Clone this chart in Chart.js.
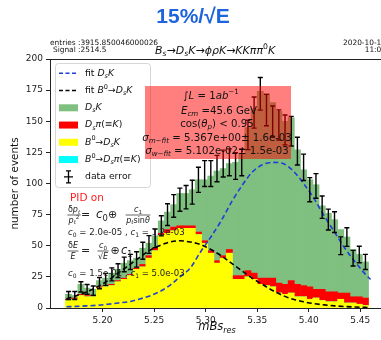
<!DOCTYPE html>
<html>
<head>
<meta charset="utf-8">
<script src="https://cdn.jsdelivr.net/npm/chart.js"></script>
<style>
html,body{margin:0;padding:0;overflow:hidden;background:#fff;}
canvas{display:block;}
</style>
</head>
<body>
<canvas id="chart" width="390" height="340"></canvas>
<script>
// histogram bin centres (mBs_res)
const binCenters = [5.167,5.173,5.179,5.185,5.191,5.197,5.203,5.209,5.215,5.221,5.227,5.233,5.239,5.245,5.251,5.257,5.263,5.269,5.275,5.281,5.287,5.293,5.299,5.305,5.311,5.317,5.323,5.329,5.335,5.341,5.347,5.353,5.359,5.365,5.371,5.377,5.383,5.389,5.395,5.401,5.407,5.413,5.419,5.425,5.431,5.437,5.443,5.449,5.455];

// stacked MC components (bottom to top)
const histB0DsK = [6,7,10,9,9,16,17,18,21,23,26,31,33,40,46,58,60,62,64,64,64,59,52,44,36,40,44,23,23,25,23,19,18,17,12,11,12,9,9,7,8,6,5,5,7,4,4,3,2];
const histB0DsPi = [0,0,0,0,0,0,0,0,0,0,0,0,0,0,0,0,0,0,0,0,0,0,0,0,0,0,0,0,0,0,0,0,0,0,0,0,0,0,0,0,0,0,0,0,0,0,0,0,0];
const histDsPi = [1,1,1,1,1,1,1,1,1,1,1,1,2,2,2,2,3,3,2,2,2,2,2,2,2,2,3,3,3,5,5,5,6,7,8,8,10,10,9,10,7,9,8,8,5,8,5,6,6];
const histDsK = [4,2,8,6,5,5,6,9,9,12,11,8,13,10,10,10,14,18,26,26,29,42,49,60,72,70,69,91,98,115,132,150,148,141,138,131,131,108,93,86,84,67,63,58,51,45,38,34,29];

// data points with errors
const dataCounts = [10,10,17,15,14,20,23,27,30,35,37,39,46,51,56,66,75,82,87,89,93,103,108,108,112,116,117,114,117,139,157,172,159,150,147,143,142,126,113,95,98,81,71,69,50,57,40,43,37];
const dataErrors = [3.2,3.2,4.1,3.9,3.7,4.5,4.8,5.2,5.5,5.9,6.1,6.2,6.8,7.1,7.5,8.1,8.7,9.1,9.3,9.4,9.6,10.1,10.4,10.4,10.6,10.8,10.8,10.7,10.8,11.8,12.5,13.1,12.6,12.2,12.1,12.0,11.9,11.2,10.6,9.7,9.9,9.0,8.4,8.3,7.1,7.5,6.3,6.6,6.1];

// fit curves
const fitX = [5.165,5.175,5.185,5.195,5.205,5.215,5.225,5.235,5.245,5.255,5.265,5.275,5.285,5.295,5.305,5.315,5.325,5.335,5.345,5.355,5.365,5.375,5.385,5.395,5.405,5.415,5.425,5.435,5.445,5.455,5.46];
const fitDsK = [1,1.3,1.7,2.2,3,4,5,7,9.5,13,18,25,32,45,57,70,85,98,109,115,117,116,110,100,88,74,61,48,37,27,23];
const fitB0DsK = [7.5,10,13,17,22,28,34,40,46,50,53,54,53,51,47,42,36,30,24,19,14,10,7,5,3.5,2.5,1.7,1.2,0.8,0.5,0.4];

const xTicks = [5.20,5.25,5.30,5.35,5.40,5.45];
const yTicks = [0,25,50,75,100,125,150,175,200];

const FAM = "'DejaVu Sans', sans-serif";

function fontStr(st, size){
  const it = st.includes('i') ? 'italic ' : '';
  const s = (st.includes('b') || st.includes('p')) ? size*0.7 : size;
  return it + s.toFixed(2) + 'px ' + FAM;
}
function richWidth(ctx, segs, size){
  let w = 0;
  for(const [t,st] of segs){ ctx.font = fontStr(st,size); w += ctx.measureText(t).width; }
  return w;
}
function rich(ctx, x, y, segs, size, color, align){
  ctx.save();
  ctx.fillStyle = color || '#111';
  ctx.textBaseline = 'middle';
  ctx.textAlign = 'left';
  const w = richWidth(ctx, segs, size);
  if(align === 'center') x -= w/2;
  else if(align === 'right') x -= w;
  for(const [t,st] of segs){
    ctx.font = fontStr(st,size);
    let dy = 0;
    if(st.includes('b')) dy = size*0.3;
    if(st.includes('p')) dy = -size*0.38;
    ctx.fillText(t, x, y+dy);
    x += ctx.measureText(t).width;
  }
  ctx.restore();
  return w;
}
function frac(ctx, cx, cy, num, den, size, color){
  const w = Math.max(richWidth(ctx,num,size), richWidth(ctx,den,size)) + 1;
  rich(ctx, cx, cy - size*0.62, num, size, color, 'center');
  rich(ctx, cx, cy + size*0.7, den, size, color, 'center');
  ctx.save();
  ctx.strokeStyle = color; ctx.lineWidth = 0.7;
  ctx.beginPath(); ctx.moveTo(cx-w/2, cy); ctx.lineTo(cx+w/2, cy); ctx.stroke();
  ctx.restore();
}

const legendItems = [
  {kind:'line', color:'#1f3fd8', text:[['fit ','n'],['D','i'],['s','bi'],['K','i']]},
  {kind:'line', color:'#000', text:[['fit ','n'],['B','i'],['0','p'],['→','n'],['D','i'],['s','bi'],['K','i']]},
  {kind:'patch', color:'#7fbf7f', text:[['D','i'],['s','bi'],['K','i']]},
  {kind:'patch', color:'#ff0000', text:[['D','i'],['s','bi'],['π','i'],['(≡','n'],['K','i'],[')','n']]},
  {kind:'patch', color:'#ffff00', text:[['B','i'],['0','p'],['→','n'],['D','i'],['s','bi'],['K','i']]},
  {kind:'patch', color:'#00ffff', text:[['B','i'],['0','p'],['→','n'],['D','i'],['s','bi'],['π','i'],['(≡','n'],['K','i'],[')','n']]},
  {kind:'err', color:'#000', text:[['data error','n']]}
];

function drawLegend(ctx){
  ctx.save();
  ctx.fillStyle = 'rgba(255,255,255,0.85)';
  ctx.strokeStyle = '#cccccc'; ctx.lineWidth = 0.8;
  ctx.beginPath();
  ctx.roundRect(55.5, 63.5, 95, 124, 3);
  ctx.fill(); ctx.stroke();
  ctx.restore();
  legendItems.forEach((it, i) => {
    const cy = 73.3 + i*17.25;
    ctx.save();
    if(it.kind === 'line'){
      ctx.strokeStyle = it.color; ctx.lineWidth = 1.5; ctx.setLineDash([4,2.5]);
      ctx.beginPath(); ctx.moveTo(59, cy); ctx.lineTo(78, cy); ctx.stroke();
    } else if(it.kind === 'patch'){
      ctx.fillStyle = it.color;
      ctx.fillRect(59, cy-3.5, 19, 7);
    } else {
      ctx.strokeStyle = '#000'; ctx.lineWidth = 1.3;
      ctx.beginPath();
      ctx.moveTo(68.5, cy-6); ctx.lineTo(68.5, cy+6);
      ctx.moveTo(66, cy-6); ctx.lineTo(71, cy-6);
      ctx.moveTo(66, cy+6); ctx.lineTo(71, cy+6);
      ctx.moveTo(64, cy); ctx.lineTo(73, cy);
      ctx.stroke();
    }
    ctx.restore();
    rich(ctx, 85, cy, it.text, 9.3, '#111');
  });
}

const overlay = {
  id: 'overlay',
  afterDatasetsDraw(chart){
    const {ctx, scales:{x, y}} = chart;
    // error bars
    ctx.save();
    ctx.strokeStyle = '#000';
    ctx.lineWidth = 1.4;
    binCenters.forEach((c,i) => {
      const px = x.getPixelForValue(c);
      const y1 = y.getPixelForValue(dataCounts[i] - dataErrors[i]);
      const y2 = y.getPixelForValue(dataCounts[i] + dataErrors[i]);
      ctx.beginPath();
      ctx.moveTo(px, y1); ctx.lineTo(px, y2);
      ctx.moveTo(px-2.5, y1); ctx.lineTo(px+2.5, y1);
      ctx.moveTo(px-2.5, y2); ctx.lineTo(px+2.5, y2);
      ctx.stroke();
    });
    ctx.restore();

    drawLegend(ctx);

    // info box
    ctx.save();
    ctx.fillStyle = 'rgba(255,0,0,0.5)';
    ctx.fillRect(145, 86, 146, 73);
    ctx.restore();
    const bx = 217, fs = 10.2;
    rich(ctx, bx-6, 96, [['∫','n'],['L','i'],[' = 1','n'],['ab','i'],['−1','p']], fs, '#111', 'center');
    rich(ctx, bx+2, 111, [['E','i'],['cm','bi'],[' =45.6 GeV','n']], fs, '#111', 'center');
    rich(ctx, bx, 124, [['cos(','n'],['θ','i'],['p','bi'],[') < 0.95','n']], fs, '#111', 'center');
    rich(ctx, bx, 138, [['σ','i'],['m−fit','bi'],[' = 5.367e+00± 1.6e-03','n']], fs, '#111', 'center');
    rich(ctx, bx, 151, [['σ','i'],['w−fit','bi'],[' = 5.102e-02± 1.5e-03','n']], fs, '#111', 'center');
  },
  afterDraw(chart){
    const {ctx, chartArea:a} = chart;
    // frame
    ctx.save();
    ctx.strokeStyle = '#222'; ctx.lineWidth = 1;
    ctx.strokeRect(a.left+0.5, a.top+0.5, a.right-a.left, a.bottom-a.top);
    ctx.restore();

    // heading
    ctx.save();
    ctx.fillStyle = '#1e64dc';
    ctx.font = "bold 21px 'Liberation Sans', Arial, sans-serif";
    ctx.textAlign = 'center'; ctx.textBaseline = 'middle';
    ctx.fillText('15%/√E', 193, 17);
    ctx.restore();

    // header texts
    rich(ctx, 50, 43, [['entries :3915.850046000026','n']], 7.4, '#111');
    rich(ctx, 53, 50, [['Signal :2514.5','n']], 7.4, '#111');
    rich(ctx, 155, 51, [['B','i'],['s','bi'],['→','n'],['D','i'],['s','bi'],['K→ϕρK→KKππ','i'],['0','p'],['K','i']], 11, '#111');
    rich(ctx, 386, 43, [['2020-10-16','n']], 7.4, '#111', 'right');
    rich(ctx, 386, 50, [['11:09','n']], 7.4, '#111', 'right');

    // axis titles
    ctx.save();
    ctx.translate(15, 183.5);
    ctx.rotate(-Math.PI/2);
    ctx.fillStyle = '#111';
    ctx.font = '10.4px ' + FAM;
    ctx.textAlign = 'center'; ctx.textBaseline = 'middle';
    ctx.fillText('number of events', 0, 0);
    ctx.restore();
    rich(ctx, 217, 327, [['mBs','i'],['res','bi']], 11.5, '#111', 'center');

    // resolution annotations
    rich(ctx, 70, 198, [['PID on','n']], 10.5, '#ff1a1a');
    const tc = '#222';
    frac(ctx, 74, 215, [['δ','n'],['p','i'],['t','bi']], [['p','i'],['t','bi'],['2','pn']], 8, tc);
    rich(ctx, 85.5, 215, [['=','n']], 11, tc, 'center');
    rich(ctx, 96, 215, [['c','i'],['0','bn']], 12, tc);
    rich(ctx, 112.5, 215, [['⊕','n']], 11, tc, 'center');
    frac(ctx, 138, 215, [['c','i'],['1','bn']], [['p','i'],['t','bi'],['sin','n'],['θ','i']], 8, tc);
    rich(ctx, 68, 233, [['c','i'],['0','bn'],[' = 2.0e-05 , ','n'],['c','i'],['1','bn'],[' = 1.2e-03','n']], 8.6, tc);
    frac(ctx, 73, 251, [['δ','n'],['E','i']], [['E','i']], 8, tc);
    rich(ctx, 85.5, 251, [['=','n']], 11, tc, 'center');
    frac(ctx, 103, 251, [['c','i'],['0','bn']], [['√','n'],['E','i']], 8, tc);
    rich(ctx, 115, 251, [['⊕','n']], 11, tc, 'center');
    rich(ctx, 121, 251, [['c','i'],['1','bn']], 11.5, tc);
    rich(ctx, 68, 274, [['c','i'],['0','bn'],[' = 1.5e-01 , ','n'],['c','i'],['1','bn'],[' = 5.0e-03','n']], 8.6, tc);
  }
};

const toXY = arr => binCenters.map((c,i) => ({x:c, y:arr[i]}));
const tickFont = {family:'DejaVu Sans', size:9};

new Chart(document.getElementById('chart'), {
  type: 'bar',
  data: {
    datasets: [
      {type:'line', label:'fit DsK', data: fitX.map((v,i)=>({x:v, y:fitDsK[i]})), borderColor:'#1f3fd8', borderWidth:1.6, borderDash:[5,3], pointRadius:0, fill:false, cubicInterpolationMode:'monotone', stack:'fitA', order:0},
      {type:'line', label:'fit B0->DsK', data: fitX.map((v,i)=>({x:v, y:fitB0DsK[i]})), borderColor:'#000', borderWidth:1.6, borderDash:[5,3], pointRadius:0, fill:false, cubicInterpolationMode:'monotone', stack:'fitB', order:0},
      {label:'B0->DsK', data: toXY(histB0DsK), backgroundColor:'#ffff00', order:1},
      {label:'B0->Dspi', data: toXY(histB0DsPi), backgroundColor:'#00ffff', order:1},
      {label:'Dspi', data: toXY(histDsPi), backgroundColor:'#ff0000', order:1},
      {label:'DsK', data: toXY(histDsK), backgroundColor:'#7fbf7f', order:1}
    ]
  },
  options: {
    responsive: false,
    animation: false,
    devicePixelRatio: 1,
    layout: {padding: {left:0, right:6, top:59, bottom:0}},
    plugins: {legend:{display:false}, tooltip:{enabled:false}},
    datasets: {bar: {barPercentage:1, categoryPercentage:1, borderWidth:0}},
    scales: {
      x: {
        type:'linear', min:5.149, max:5.473, offset:false, stacked:true,
        afterFit(s){ s.height = 32; },
        afterBuildTicks(s){ s.ticks = xTicks.map(v => ({value:v})); },
        ticks: {autoSkip:false, maxRotation:0, font:tickFont, color:'#222', padding:3, callback: v => v.toFixed(2)},
        grid: {display:true, drawOnChartArea:false, drawTicks:true, tickLength:4, color:'#222', offset:false},
        border: {display:false}
      },
      y: {
        min:0, max:200, stacked:true,
        afterFit(s){ s.width = 50; },
        afterBuildTicks(s){ s.ticks = yTicks.map(v => ({value:v})); },
        ticks: {font:tickFont, color:'#222', padding:3},
        grid: {display:true, drawOnChartArea:false, drawTicks:true, tickLength:4, color:'#222'},
        border: {display:false}
      }
    }
  },
  plugins: [overlay]
});
</script>
</body>
</html>
